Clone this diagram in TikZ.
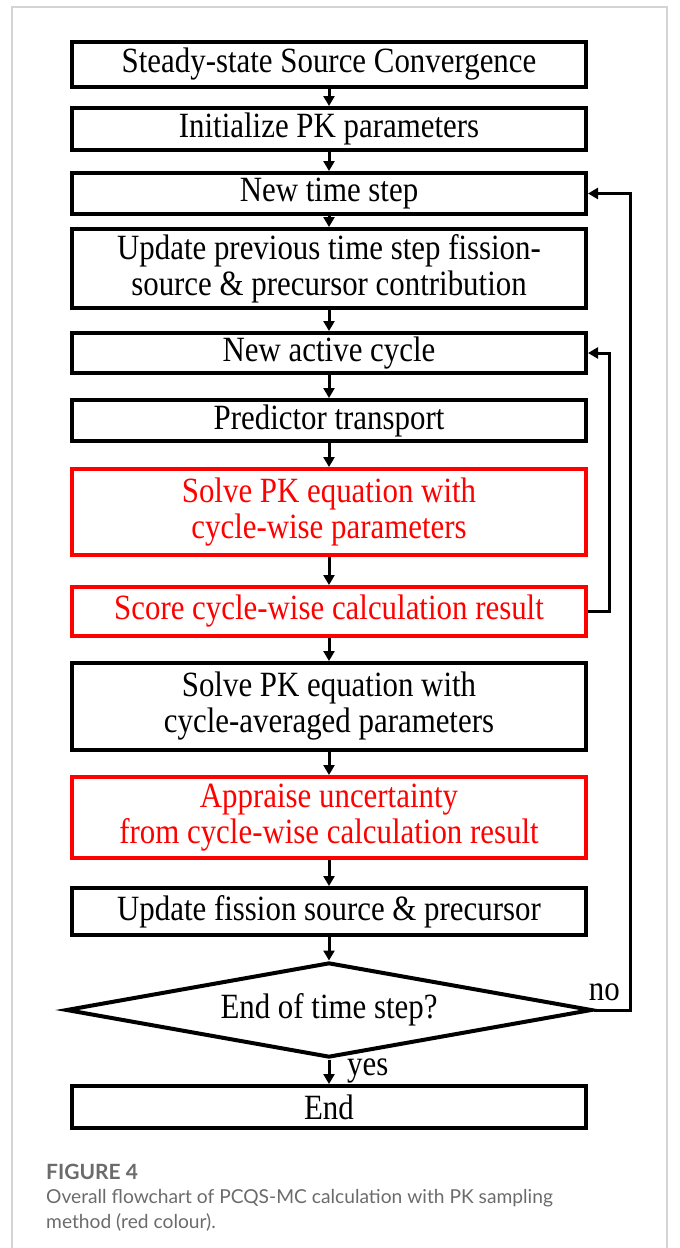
\documentclass[tikz,border=0pt]{standalone}
\usepackage{fontspec}
\setmainfont{Liberation Serif}[FakeStretch=0.87]
\newfontfamily\capfont{Lato}
\usepackage{xcolor}
\usepackage{tikz}
\usetikzlibrary{positioning,arrows.meta,shapes.geometric,calc}

\definecolor{capgrey}{HTML}{6B6B6B}
\definecolor{framegrey}{HTML}{D4D4D4}

\begin{document}
\begin{tikzpicture}[
    x=1pt, y=-1pt,
    box/.style={draw=#1, text=#1, line width=4pt, minimum width=514pt, inner sep=0pt,
        align=center, font=\fontsize{35.5}{36}\selectfont},
    box/.default=black,
    decision/.style={draw, diamond, line width=4pt, aspect=5.5, inner sep=0pt,
        minimum width=526pt, minimum height=95pt, font=\fontsize{35.5}{36}\selectfont},
    flow/.style={line width=3pt, -{Triangle[length=10pt,width=11pt]}},
    lbl/.style={font=\fontsize{35.5}{36}\selectfont, inner sep=0pt},
]
\useasboundingbox (0,0) rectangle (680,1248);
\draw[framegrey, line width=1.5pt] (12,1248) -- (12,7) -- (667,7) -- (667,1248);

\node[box, minimum height=45pt] (start) at (329,64.5) {Steady-state Source Convergence};
\node[box, minimum height=42pt] (init) at (329,129) {Initialize PK parameters};
\node[box, minimum height=41pt] (newstep) at (329,193.5) {New time step};
\node[box, minimum height=79pt] (update) at (329,268.5) {Update previous time step fission-\\source \& precursor contribution};
\node[box, minimum height=40pt] (newcycle) at (329,353) {New active cycle};
\node[box, minimum height=41pt] (predict) at (329,420.5) {Predictor transport};
\node[box=red, minimum height=86pt] (solvecw) at (329,512) {Solve PK equation with\\cycle-wise parameters};
\node[box=red, minimum height=49pt] (score) at (329,611.5) {Score cycle-wise calculation result};
\node[box, minimum height=87pt] (solveavg) at (329,706.5) {Solve PK equation with\\cycle-averaged parameters};
\node[box=red, minimum height=81pt] (appraise) at (329,817.5) {Appraise uncertainty\\from cycle-wise calculation result};
\node[box, minimum height=47pt] (updsrc) at (329,911.5) {Update fission source \& precursor};
\node[decision] (check) at (329,1010) {End of time step?};
\node[box, minimum height=42pt] (finish) at (329,1107) {End};

\draw[flow] (start) -- (init);
\draw[flow] (init) -- (newstep);
\draw[flow] (newstep) -- (update);
\draw[flow] (update) -- (newcycle);
\draw[flow] (newcycle) -- (predict);
\draw[flow] (predict) -- (solvecw);
\draw[flow] (solvecw) -- (score);
\draw[flow] (score) -- (solveavg);
\draw[flow] (solveavg) -- (appraise);
\draw[flow] (appraise) -- (updsrc);
\draw[flow] (updsrc) -- (check);
\draw[flow] (check) -- (finish);

\draw[flow] (score.east) -- ++(21,0) |- (newcycle.east);
\draw[flow] (check.east) -- ++(36,0) |- (newstep.east);

\node[lbl, anchor=west] (yes) at (347,1071) {yes};
\node[lbl, anchor=south east] (no) at (620,1001) {no};

\node[anchor=west, inner sep=0pt, font=\capfont\bfseries\fontsize{21}{25}\selectfont, text=capgrey] (fig) at (46,1172) {FIGURE 4};
\node[anchor=north west, inner sep=0pt, align=left, font=\capfont\fontsize{19.2}{25}\selectfont, text=capgrey] (cap) at (46,1189) {Overall flowchart of PCQS-MC calculation with PK sampling\\method (red colour).};
\end{tikzpicture}
\end{document}
